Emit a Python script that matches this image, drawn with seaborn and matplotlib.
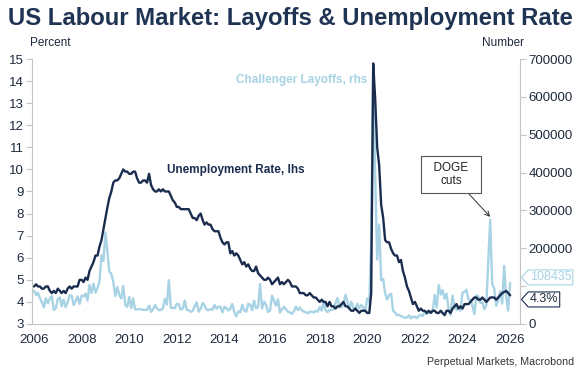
import numpy as np
import pandas as pd
import matplotlib
matplotlib.use("Agg")
import matplotlib.pyplot as plt
import matplotlib.dates as mdates
import matplotlib.transforms as mtransforms
from matplotlib.path import Path
import seaborn as sns

# monthly, Jan 2006 .. Jan 2026
months = pd.date_range("2006-01-01", "2026-01-01", freq="MS")

# US unemployment rate, % (Oct 2025 not published)
unemployment_rate = [
    4.7, 4.8, 4.7, 4.7, 4.6, 4.6, 4.7, 4.7, 4.5, 4.4, 4.5, 4.4,
    4.6, 4.5, 4.4, 4.5, 4.4, 4.6, 4.7, 4.6, 4.7, 4.7, 4.7, 5.0,
    5.0, 4.9, 5.1, 5.0, 5.4, 5.6, 5.8, 6.1, 6.1, 6.5, 6.8, 7.3,
    7.8, 8.3, 8.7, 9.0, 9.4, 9.5, 9.5, 9.6, 9.8, 10.0, 9.9, 9.9,
    9.8, 9.8, 9.9, 9.9, 9.6, 9.4, 9.4, 9.5, 9.5, 9.4, 9.8, 9.3,
    9.1, 9.0, 9.0, 9.1, 9.0, 9.1, 9.0, 9.0, 9.0, 8.8, 8.6, 8.5,
    8.3, 8.3, 8.2, 8.2, 8.2, 8.2, 8.2, 8.0, 7.8, 7.8, 7.7, 7.9,
    8.0, 7.7, 7.5, 7.6, 7.5, 7.5, 7.3, 7.2, 7.2, 7.2, 6.9, 6.7,
    6.6, 6.7, 6.7, 6.2, 6.3, 6.1, 6.2, 6.1, 5.9, 5.7, 5.8, 5.6,
    5.7, 5.5, 5.4, 5.4, 5.6, 5.3, 5.2, 5.1, 5.0, 5.0, 5.1, 5.0,
    4.8, 4.9, 5.0, 5.1, 4.8, 4.9, 4.8, 4.9, 5.0, 4.9, 4.7, 4.7,
    4.7, 4.6, 4.4, 4.4, 4.4, 4.3, 4.3, 4.4, 4.3, 4.2, 4.2, 4.1,
    4.0, 4.1, 4.0, 4.0, 3.8, 4.0, 3.8, 3.8, 3.7, 3.8, 3.8, 3.9,
    4.0, 3.8, 3.8, 3.7, 3.6, 3.6, 3.7, 3.6, 3.5, 3.6, 3.6, 3.6,
    3.5, 3.5, 4.4, 14.8, 13.2, 11.0, 10.2, 8.4, 7.8, 6.8, 6.7, 6.7,
    6.4, 6.2, 6.1, 6.1, 5.8, 5.9, 5.4, 5.1, 4.7, 4.5, 4.2, 3.9,
    4.0, 3.8, 3.6, 3.7, 3.6, 3.6, 3.5, 3.6, 3.5, 3.6, 3.6, 3.5,
    3.5, 3.6, 3.5, 3.4, 3.6, 3.6, 3.5, 3.7, 3.8, 3.9, 3.7, 3.8,
    3.7, 3.9, 3.9, 3.9, 4.0, 4.1, 4.2, 4.2, 4.1, 4.1, 4.2, 4.1,
    4.0, 4.1, 4.2, 4.2, 4.2, 4.1, 4.2, 4.3, 4.4, np.nan, 4.5, 4.4,
    4.3,
]

# Challenger announced job cuts, number
challenger_layoffs = [
    87643, 76563, 83005, 67618, 57832, 44122, 68109, 54460, 66935, 74224, 37136, 41600,
    65638, 70258, 46743, 64386, 44586, 57000, 76000, 75000, 50000, 60000, 73000, 53000,
    74986, 73424, 80179, 61900, 103522, 81755, 106763, 82936, 95094, 112884, 181671, 166348,
    241749, 186350, 138452, 132844, 111182, 74393, 97373, 76456, 67522, 100750, 50349, 45094,
    71482, 42090, 67611, 38810, 38358, 39358, 38901, 37151, 37151, 37151, 48711, 32004,
    38519, 50702, 41528, 36490, 37135, 41432, 66414, 51114, 115730, 42759, 42474, 41785,
    53486, 51728, 37880, 40559, 61887, 37551, 36110, 32239, 34372, 47724, 57081, 32556,
    40430, 55356, 49255, 38121, 36398, 39372, 37701, 50462, 40289, 45730, 45314, 30623,
    45107, 41835, 35507, 40298, 52961, 31434, 20102, 33477, 31017, 50462, 35940, 32640,
    53041, 50579, 36594, 61582, 41034, 44842, 105696, 41186, 58877, 50504, 31891, 35039,
    75114, 61599, 48207, 65141, 30157, 38536, 45346, 38499, 32188, 30740, 26936, 33627,
    45934, 36957, 43310, 36602, 33092, 31105, 28307, 32243, 32346, 30120, 35038, 32423,
    44653, 35369, 60357, 36081, 31517, 37202, 37202, 38472, 55285, 68573, 43884, 43884,
    52988, 76835, 60587, 40023, 58577, 41977, 38845, 53480, 41557, 50275, 44569, 32843,
    67735, 56660, 222288, 671129, 397016, 170219, 262649, 115762, 118804, 80666, 64797, 77030,
    79552, 34531, 30603, 22913, 24586, 20476, 18942, 15723, 17895, 22822, 14875, 19052,
    19064, 15245, 21387, 24286, 20712, 32517, 25810, 30069, 29989, 33843, 76835, 43651,
    102943, 77770, 89703, 66995, 80089, 40709, 23697, 75151, 47457, 36836, 45510, 34817,
    82307, 84638, 90309, 64789, 63816, 48786, 25885, 75891, 72821, 55597, 57727, 38792,
    49795, 172017, 275240, 105441, 93816, 47999, 62075, 85979, 54064, 153074, 71321, 35553,
    108435,
]

# right-axis labels (100000 sits under the end tags in the original)
rhs_ticks = [0, 100000, 200000, 300000, 400000, 500000, 600000, 700000]
rhs_labels = ["0", "", "200000", "300000", "400000", "500000", "600000", "700000"]

navy = "#1b2d4f"
light_blue = "#a7d3e4"
text_col = "#1e2a3d"
grey = "#c4c4c4"

df = pd.DataFrame({"date": months, "unemp": unemployment_rate, "layoffs": challenger_layoffs})
df_u = df.dropna(subset=["unemp"])


# end-of-line tag: box with a small point on the left
def tag_box(x0, y0, width, height, mutation_size):
    pad = 0.12 * mutation_size
    x0, y0 = x0 - pad, y0 - pad
    x1, y1 = x0 + width + 2 * pad, y0 + height + 2 * pad
    tip = x0 - (y1 - y0) * 0.45
    ym = (y0 + y1) / 2
    verts = [(tip, ym), (x0, y1), (x1, y1), (x1, y0), (x0, y0), (tip, ym)]
    codes = [Path.MOVETO] + [Path.LINETO] * 4 + [Path.CLOSEPOLY]
    return Path(verts, codes)


sns.set_style("white")
plt.rcParams["font.family"] = ["Liberation Sans", "DejaVu Sans"]

fig = plt.figure(figsize=(5.84, 3.77), dpi=100)
ax = fig.add_axes([0.0548, 0.1406, 0.8356, 0.7029])
ax2 = ax.twinx()

sns.lineplot(data=df, x="date", y="layoffs", ax=ax2, color=light_blue, linewidth=1.7)
sns.lineplot(data=df_u, x="date", y="unemp", ax=ax, color=navy, linewidth=1.7)
ax.set_zorder(ax2.get_zorder() + 1)
ax.patch.set_visible(False)

ax.set_xlim(pd.Timestamp("2005-12-01"), pd.Timestamp("2026-06-01"))
ax.set_ylim(3, 15)
ax2.set_ylim(0, 700000)
ax.set_yticks(range(3, 16))
ax2.set_yticks(rhs_ticks)
ax2.set_yticklabels(rhs_labels)
ax.xaxis.set_major_locator(mdates.YearLocator(2))
ax.xaxis.set_major_formatter(mdates.DateFormatter("%Y"))
ax.set_xlabel("")
ax.set_ylabel("")
ax2.set_ylabel("")

for a in (ax, ax2):
    for s in a.spines.values():
        s.set_visible(False)
    a.tick_params(colors=grey, labelcolor=text_col, labelsize=9.5, length=4, width=0.8)
ax.spines["left"].set_visible(True)
ax.spines["bottom"].set_visible(True)
ax2.spines["right"].set_visible(True)
for s in (ax.spines["left"], ax.spines["bottom"], ax2.spines["right"]):
    s.set_color(grey)
    s.set_linewidth(0.8)
ax.tick_params(axis="y", pad=2)
ax2.tick_params(axis="y", pad=2)
ax.tick_params(axis="x", pad=3)

ax.text(pd.Timestamp("2011-08-01"), 9.97, "Unemployment Rate, lhs", color=navy,
        fontsize=8.5, fontweight="bold", ha="left", va="center")
ax.text(pd.Timestamp("2014-07-01"), 14.05, "Challenger Layoffs, rhs", color=light_blue,
        fontsize=8.5, fontweight="bold", ha="left", va="center")

ax2.annotate("  DOGE  \ncuts", xy=(pd.Timestamp("2025-03-01"), 283000),
             xytext=(pd.Timestamp("2023-07-08"), 395000), fontsize=8.5, color="#222222",
             ha="center", va="center", multialignment="center",
             bbox=dict(boxstyle="square,pad=0.5", fc="white", ec="#555555", lw=0.8),
             arrowprops=dict(arrowstyle="->", color="#333333", lw=0.7,
                             shrinkA=0, shrinkB=0))

t2 = mtransforms.blended_transform_factory(ax2.transAxes, ax2.transData)
ax2.annotate("108435", xy=(1.0, 108435), xycoords=t2, xytext=(7, 4),
             textcoords="offset points", fontsize=9, color=light_blue,
             ha="left", va="center", annotation_clip=False,
             bbox=dict(boxstyle=tag_box, fc="white", ec=light_blue, lw=0.8))
t1 = mtransforms.blended_transform_factory(ax.transAxes, ax.transData)
ax.annotate("4.3%", xy=(1.0, 4.3), xycoords=t1, xytext=(7, -3),
            textcoords="offset points", fontsize=9, color=text_col,
            ha="left", va="center", annotation_clip=False,
            bbox=dict(boxstyle=tag_box, fc="white", ec=navy, lw=0.8))

fig.text(8 / 584, 1 - 18 / 377, "US Labour Market: Layoffs & Unemployment Rate",
         fontsize=17.2, fontweight="bold", color="#1f3353", ha="left", va="center")
fig.text(30 / 584, 1 - 43 / 377, "Percent", fontsize=8.5, color=text_col,
         ha="left", va="center")
fig.text(524 / 584, 1 - 43 / 377, "Number", fontsize=8.5, color=text_col,
         ha="right", va="center")
fig.text(574 / 584, 1 - 362 / 377, "Perpetual Markets, Macrobond", fontsize=7.7,
         color="#333333", ha="right", va="center")

fig.savefig("out.png", dpi=100)
